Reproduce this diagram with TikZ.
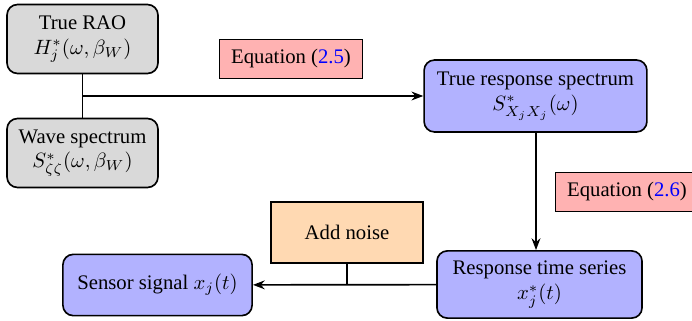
\documentclass[tikz,border=0pt]{standalone}
\usepackage{amsmath, amssymb}
\usepackage{fontspec}
\setmainfont{Liberation Serif}
\usepackage{tikz}
\usetikzlibrary{arrows.meta, positioning}
\tikzset{
    base/.style={draw, rectangle, rounded corners=5pt, align=center, font=\normalsize, thick},
    given/.style={base, fill=gray!30, minimum width=2.56cm, minimum height=1.17cm},
    spec/.style={base, fill=blue!30},
    eqbox/.style={draw, rectangle, fill=red!30, minimum width=2.44cm, minimum height=0.66cm},
    arrow/.style={thick, -{Stealth[length=2mm]}}
}

\begin{document}
\begin{tikzpicture}[x=0.01697cm, y=-0.01697cm]
\useasboundingbox (0,0) rectangle (692,321);
\node[given] (rao) at (82.5,39) {True RAO\\ $H_j^*(\omega,\beta_W)$};
\node[given] (wave) at (82.5,153) {Wave spectrum\\ $S_{\zeta\zeta}^*(\omega,\beta_W)$};
\node[eqbox] (eqa) at (291,58.5) {Equation ({\color{blue}2.5})};
\node[spec, minimum width=3.78cm, minimum height=1.22cm] (trs) at (535.5,96) {True response spectrum\\ $S_{X_jX_j}^*(\omega)$};
\node[eqbox] (eqb) at (627,191.5) {Equation ({\color{blue}2.6})};
\node[spec, minimum width=3.48cm, minimum height=1.14cm] (rts) at (539.5,284.5) {Response time series\\ $x_j^*(t)$};
\node[base, rounded corners=0pt, fill=orange!30, minimum width=2.58cm, minimum height=1.04cm] (noise) at (347,232.5) {Add noise};
\node[spec, minimum width=3.21cm, minimum height=1.04cm] (sensor) at (157.5,285) {Sensor signal $x_j(t)$};
\coordinate (join) at (rao |- trs);
\coordinate (mix) at (noise |- rts);
\draw[thick] (rao) -- (wave);
\draw[arrow] (join) -- (trs);
\draw[arrow] (trs.south -| 536,0) -- (rts.north -| 536,0);
\draw[arrow] (rts) -- (sensor);
\draw[thick] (noise) -- (mix);
\end{tikzpicture}
\end{document}
